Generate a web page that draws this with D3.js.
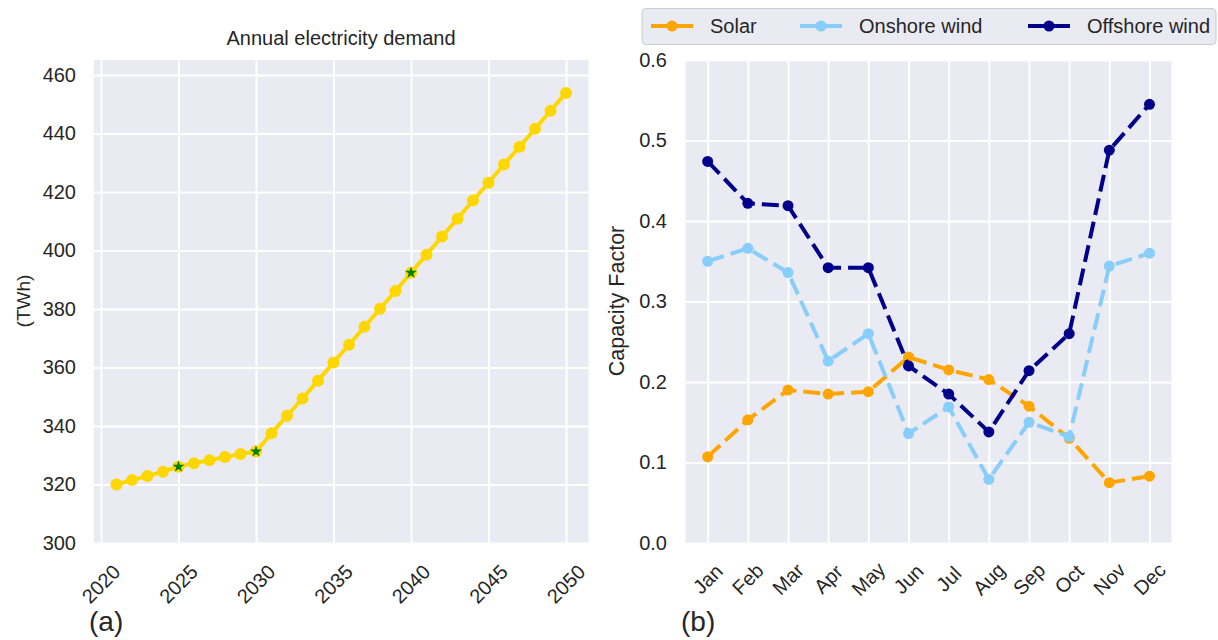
<!DOCTYPE html>
<html><head><meta charset="utf-8">
<script src="https://cdn.jsdelivr.net/npm/d3@7"></script>
<style>
body{margin:0;background:#fff;}
text{font-family:"Liberation Sans",Arial,sans-serif;fill:#262626;}
</style></head>
<body><svg id="c" width="1218" height="640"></svg>
<script>
// ---- data ----
const years = d3.range(2021, 2051);
const demand = [320.0,321.5,322.9,324.4,326.1,327.3,328.3,329.4,330.4,331.3,
                337.5,343.5,349.4,355.5,361.7,367.8,373.9,380.1,386.2,392.4,
                398.6,404.8,410.9,417.1,423.2,429.4,435.5,441.6,447.8,453.9];
const starYears = [2025, 2030, 2040];
const yearTicks = [2020, 2025, 2030, 2035, 2040, 2045, 2050];
const demandTicks = [300, 320, 340, 360, 380, 400, 420, 440, 460];

const months = ["Jan","Feb","Mar","Apr","May","Jun","Jul","Aug","Sep","Oct","Nov","Dec"];
const solar    = [0.107,0.153,0.190,0.185,0.188,0.231,0.215,0.203,0.170,0.130,0.075,0.083];
const onshore  = [0.350,0.366,0.336,0.226,0.260,0.136,0.169,0.079,0.150,0.132,0.344,0.360];
const offshore = [0.474,0.422,0.419,0.342,0.342,0.220,0.185,0.138,0.214,0.260,0.488,0.545];
const cfTicks = [0.0, 0.1, 0.2, 0.3, 0.4, 0.5, 0.6];
const seriesNames = ["Solar", "Onshore wind", "Offshore wind"];
const seriesColors = ["#FFA500", "#87CEFA", "#00008B"];

const svg = d3.select("#c");
const BG = "#EAEAF2";
const FONT = '"Liberation Sans",Arial,sans-serif';

// ---------- panel (a) ----------
const ax = d3.scaleLinear().domain([2019.55, 2051.45]).range([94, 588.5]);
const ay = d3.scaleLinear().domain([300, 465.15]).range([543, 60]);
const ga = svg.append("g");
ga.append("rect").attr("x", 94).attr("y", 60).attr("width", 588.5-94).attr("height", 483).attr("fill", BG);
ga.append("g").attr("transform","translate(0,543)")
  .call(d3.axisBottom(ax).tickValues(yearTicks).tickSize(-483).tickFormat(""))
  .call(g=>{g.select(".domain").remove(); g.selectAll("line").attr("stroke","#fff").attr("stroke-width",2);});
ga.append("g").attr("transform","translate(94,0)")
  .call(d3.axisLeft(ay).tickValues(demandTicks).tickSize(-(588.5-94)).tickFormat(""))
  .call(g=>{g.select(".domain").remove(); g.selectAll("line").attr("stroke","#fff").attr("stroke-width",2);});
ga.append("g").attr("transform","translate(76,0)")
  .call(d3.axisLeft(ay).tickValues(demandTicks).tickSize(0).tickPadding(0).tickFormat(d3.format("d")))
  .call(g=>{g.select(".domain").remove(); g.selectAll("text").attr("font-size",20).attr("fill","#262626").style("font-family",FONT);});
ga.selectAll("text.yl").data(yearTicks).join("text").attr("class","yl")
  .attr("transform", d=>`translate(${ax(d)},584) rotate(-45)`)
  .attr("text-anchor","middle").attr("dominant-baseline","central")
  .attr("font-size",20).text(d=>d);
ga.append("path").datum(years.map((y,i)=>[y,demand[i]]))
  .attr("d", d3.line().x(d=>ax(d[0])).y(d=>ay(d[1])))
  .attr("fill","none").attr("stroke","#FFD700").attr("stroke-width",4);
ga.selectAll("circle.d").data(years.map((y,i)=>[y,demand[i]])).join("circle")
  .attr("cx",d=>ax(d[0])).attr("cy",d=>ay(d[1])).attr("r",6).attr("fill","#FFD700");
ga.selectAll("path.star").data(starYears).join("path").attr("class","star")
  .attr("transform", d=>`translate(${ax(d)},${ay(demand[years.indexOf(d)])})`)
  .attr("d", d3.symbol(d3.symbolStar, 45)).attr("fill","#008000");
ga.append("text").attr("x",341).attr("y",45).attr("text-anchor","middle").attr("font-size",20).text("Annual electricity demand");
ga.append("text").attr("transform","translate(23,301) rotate(-90)").attr("text-anchor","middle")
  .attr("dominant-baseline","central").attr("font-size",19).text("(TWh)");
ga.append("text").attr("x",89).attr("y",631).attr("font-size",28).text("(a)");

// ---------- panel (b) ----------
const bx = d3.scaleLinear().domain([-0.55, 11.55]).range([685.6, 1171.6]);
const by = d3.scaleLinear().domain([0, 0.6]).range([543, 60]);
const gb = svg.append("g");
gb.append("rect").attr("x",685.6).attr("y",60).attr("width",1171.6-685.6).attr("height",483).attr("fill",BG);
gb.append("g").attr("transform","translate(0,543)")
  .call(d3.axisBottom(bx).tickValues(d3.range(12)).tickSize(-483).tickFormat(""))
  .call(g=>{g.select(".domain").remove(); g.selectAll("line").attr("stroke","#fff").attr("stroke-width",2);});
gb.append("g").attr("transform","translate(685.6,0)")
  .call(d3.axisLeft(by).tickValues(cfTicks).tickSize(-(1171.6-685.6)).tickFormat(""))
  .call(g=>{g.select(".domain").remove(); g.selectAll("line").attr("stroke","#fff").attr("stroke-width",2);});
gb.append("g").attr("transform","translate(667,0)")
  .call(d3.axisLeft(by).tickValues(cfTicks).tickSize(0).tickPadding(0).tickFormat(d3.format(".1f")))
  .call(g=>{g.select(".domain").remove(); g.selectAll("text").attr("font-size",20).attr("fill","#262626").style("font-family",FONT);});
gb.selectAll("text.ml").data(months).join("text").attr("class","ml")
  .attr("transform",(d,i)=>`translate(${bx(i)},579) rotate(-45)`)
  .attr("text-anchor","middle").attr("dominant-baseline","central")
  .attr("font-size",20).text(d=>d);
const series = [solar, onshore, offshore];
series.forEach((vals, k)=>{
  gb.append("path").datum(vals)
    .attr("d", d3.line().x((d,i)=>bx(i)).y(d=>by(d)))
    .attr("fill","none").attr("stroke",seriesColors[k]).attr("stroke-width",4)
    .attr("stroke-dasharray","17,7");
  gb.selectAll(null).data(vals).join("circle")
    .attr("cx",(d,i)=>bx(i)).attr("cy",d=>by(d)).attr("r",5.5).attr("fill",seriesColors[k]);
});
gb.append("text").attr("transform","translate(617,301) rotate(-90)").attr("text-anchor","middle")
  .attr("dominant-baseline","central").attr("font-size",21.5).text("Capacity Factor");
gb.append("text").attr("x",681).attr("y",631).attr("font-size",28).text("(b)");

// legend
const lg = svg.append("g");
lg.append("rect").attr("x",642).attr("y",8.5).attr("width",574).attr("height",36).attr("rx",4)
  .attr("fill","#EAEAF2").attr("stroke","#cccccc").attr("stroke-width",1);
const lx = [651, 800, 1028];
const tx = [710, 859, 1087];
seriesNames.forEach((n,k)=>{
  lg.append("line").attr("x1",lx[k]).attr("x2",lx[k]+42).attr("y1",26).attr("y2",26)
    .attr("stroke",seriesColors[k]).attr("stroke-width",4).attr("stroke-dasharray","16,10");
  lg.append("circle").attr("cx",lx[k]+21).attr("cy",26).attr("r",5.5).attr("fill",seriesColors[k]);
  lg.append("text").attr("x",tx[k]).attr("y",26).attr("dominant-baseline","central").attr("font-size",20).text(n);
});
</script></body></html>
